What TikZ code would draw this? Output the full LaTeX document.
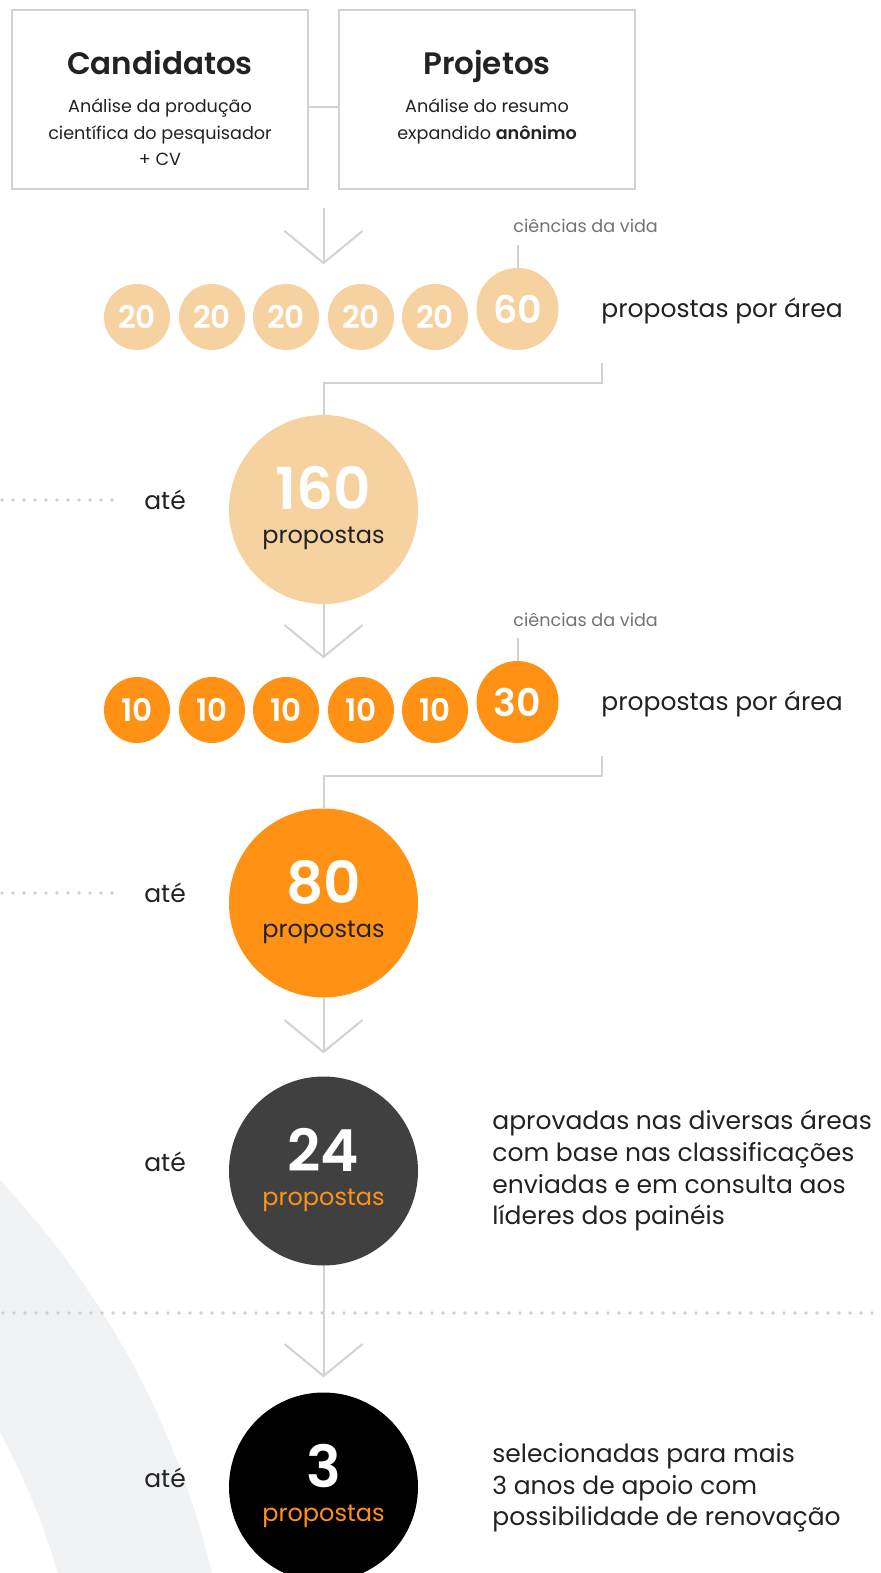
\documentclass[tikz,border=0pt]{standalone}
\usepackage{fontspec}
\setmainfont{Poppins}[BoldFont={* SemiBold}]
\definecolor{peach}{HTML}{F5D2A0}
\definecolor{orng}{HTML}{FF9215}
\definecolor{dgray}{HTML}{404040}
\definecolor{lineg}{HTML}{D2D2D2}
\definecolor{dotg}{HTML}{CFCFCF}
\definecolor{ringc}{HTML}{F1F2F4}
\definecolor{txt}{HTML}{222222}
\definecolor{gtxt}{HTML}{737373}
\begin{document}
\begin{tikzpicture}[x=0.5pt,y=-0.5pt,
  line/.style={draw=lineg, line width=1pt},
  dots/.style={draw=dotg, line width=1.8pt, line cap=round, dash pattern=on 0pt off 5.5pt},
  box/.style={draw=lineg, line width=1pt, minimum width=148pt, minimum height=89.5pt, inner sep=0pt},
  head/.style={font=\bfseries\fontsize{15.5}{18}\selectfont, text=txt, anchor=base, inner sep=0pt},
  sub/.style={font=\fontsize{8.8}{10}\selectfont, text=txt, anchor=base, inner sep=0pt},
  smallc/.style={circle, fill=#1, minimum size=33pt, inner sep=0pt, text=white, font=\bfseries\fontsize{15.5}{18}\selectfont},
  midc/.style={circle, fill=#1, minimum size=41pt, inner sep=0pt, text=white, font=\bfseries\fontsize{19}{22}\selectfont},
  bigc/.style={circle, fill=#1, minimum size=94.5pt, inner sep=0pt},
  bignum/.style={font=\bfseries\fontsize{29}{32}\selectfont, text=white, anchor=base, inner sep=0pt},
  prop/.style={font=\fontsize{12}{14}\selectfont, text=#1, anchor=base, inner sep=0pt},
  lbl/.style={font=\fontsize{12.5}{14}\selectfont, text=txt, inner sep=0pt},
  cv/.style={font=\fontsize{8.8}{10}\selectfont, text=gtxt, anchor=base west, inner sep=0pt},
  chev/.style={draw=lineg, line width=1pt}
]
\useasboundingbox (0,0) rectangle (880,1573);
% background ring
\begin{scope}
\clip (0,0) rectangle (880,1573);
\fill[ringc, even odd rule] (-627,1772) circle[radius=862] (-627,1772) circle[radius=713];
\end{scope}

% boxes
\node[box] (b1) at (160,99.5) {};
\node[box] (b2) at (487,99.5) {};
\draw[line] ([yshift=-3.75pt]b1.east) -- ([yshift=-3.75pt]b2.west);
\node[head] (h1) at (160,75) {Candidatos};
\node[sub] (s11) at (160,113) {Análise da produção};
\node[sub] (s12) at (160,139.5) {científica do pesquisador};
\node[sub] (s13) at (160,166) {+ CV};
\node[head] (h2) at (487,75) {Projetos};
\node[sub] (s21) at (487,113) {Análise do resumo};
\node[sub] (s22) at (487,139.5) {expandido \textbf{anônimo}};

% arrow 1
\coordinate (a1s) at (323.5,208);
\coordinate (a1e) at (323.5,263);
\draw[line] (a1s) -- (a1e);
\draw[chev] (a1e) ++(-39,-32) -- (a1e) -- ++(39,-32);

% row 1
\node[smallc=peach] (r1c1) at (137,317) {20};
\node[smallc=peach] (r1c2) at (212,317) {20};
\node[smallc=peach] (r1c3) at (286,317) {20};
\node[smallc=peach] (r1c4) at (361,317) {20};
\node[smallc=peach] (r1c5) at (435,317) {20};
\node[midc=peach] (r1c6) at (517.5,309) {60};
\node[cv] (cv1) at (513,233) {ciências da vida};
\coordinate (cv1l) at (517.5,245);
\draw[line] (cv1l) -- (r1c6.north);
\node[lbl, anchor=base west] (pa1) at (601,317) {propostas por área};
\coordinate (bk1a) at (602,363);
\coordinate (bk1b) at (602,383);

% 160
\node[bigc=peach] (p160) at (323.5,509.5) {};
\node[bignum] (n160) at (323.5,509.5) {160};
\node[prop=txt] (l160) at (323.5,543) {propostas};
\draw[line] (bk1a) -- (bk1b) -| (p160.north);
\node[lbl, anchor=base] (ate1) at (165,509) {até};
\coordinate (d1a) at (2,500);
\coordinate (d1b) at (114,500);
\draw[dots] (d1a) -- (d1b);

% arrow 2
\coordinate (a2e) at (323.5,657);
\draw[line] (p160.south) -- (a2e);
\draw[chev] (a2e) ++(-39,-32) -- (a2e) -- ++(39,-32);

% row 2
\node[smallc=orng] (r2c1) at (137,710) {10};
\node[smallc=orng] (r2c2) at (212,710) {10};
\node[smallc=orng] (r2c3) at (286,710) {10};
\node[smallc=orng] (r2c4) at (361,710) {10};
\node[smallc=orng] (r2c5) at (435,710) {10};
\node[midc=orng] (r2c6) at (517.5,702) {30};
\node[cv] (cv2) at (513,626) {ciências da vida};
\coordinate (cv2l) at (517.5,638);
\draw[line] (cv2l) -- (r2c6.north);
\node[lbl, anchor=base west] (pa2) at (601,710) {propostas por área};
\coordinate (bk2a) at (602,756);
\coordinate (bk2b) at (602,776);

% 80
\node[bigc=orng] (p80) at (323.5,903) {};
\node[bignum] (n80) at (323.5,903) {80};
\node[prop=txt] (l80) at (323.5,937) {propostas};
\draw[line] (bk2a) -- (bk2b) -| (p80.north);
\node[lbl, anchor=base] (ate2) at (165,902) {até};
\coordinate (d2a) at (2,893);
\coordinate (d2b) at (114,893);
\draw[dots] (d2a) -- (d2b);

% arrow 3
\coordinate (a3e) at (323.5,1052);
\draw[line] (p80.south) -- (a3e);
\draw[chev] (a3e) ++(-39,-32) -- (a3e) -- ++(39,-32);

% 24
\node[bigc=dgray] (p24) at (323.5,1171) {};
\node[bignum] (n24) at (323.5,1171) {24};
\node[prop=orng] (l24) at (323.5,1205) {propostas};
\node[lbl, anchor=base] (ate3) at (165,1171) {até};
\node[lbl, anchor=base west] (t1) at (492,1129) {aprovadas nas diversas áreas};
\node[lbl, anchor=base west] (t2) at (492,1161) {com base nas classificações};
\node[lbl, anchor=base west] (t3) at (492,1193) {enviadas e em consulta aos};
\node[lbl, anchor=base west] (t4) at (492,1224) {líderes dos painéis};

% full dotted line
\coordinate (d3a) at (3,1313);
\coordinate (d3b) at (880,1313);
\draw[dots] (d3a) -- (d3b);

% arrow 4
\coordinate (a4e) at (323.5,1376);
\draw[line] (p24.south) -- (a4e);
\draw[chev] (a4e) ++(-39,-32) -- (a4e) -- ++(39,-32);

% 3
\node[bigc=black] (p3) at (323.5,1487) {};
\node[bignum] (n3) at (323.5,1487) {3};
\node[prop=orng] (l3) at (323.5,1521) {propostas};
\node[lbl, anchor=base] (ate4) at (165,1487) {até};
\node[lbl, anchor=base west] (t5) at (492,1462) {selecionadas para mais};
\node[lbl, anchor=base west] (t6) at (492,1494) {3 anos de apoio com};
\node[lbl, anchor=base west] (t7) at (492,1525) {possibilidade de renovação};
\end{tikzpicture}
\end{document}
